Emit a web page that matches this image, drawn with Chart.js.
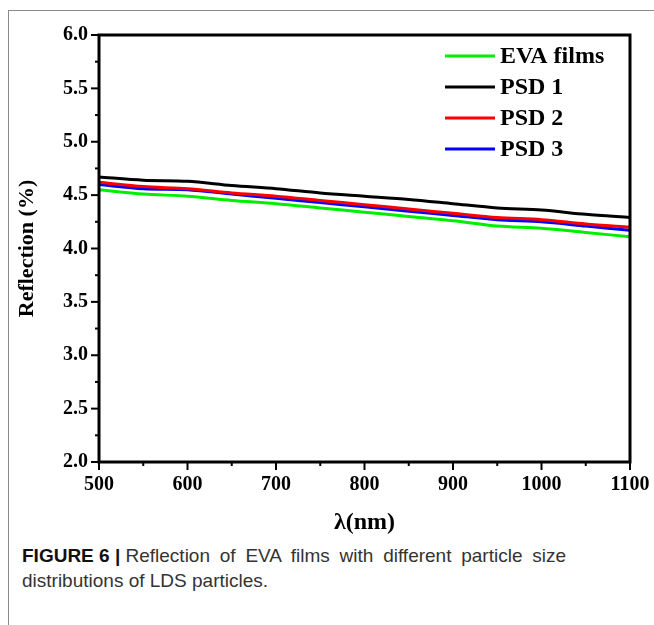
<!DOCTYPE html>
<html>
<head>
<meta charset="utf-8">
<script src="https://cdn.jsdelivr.net/npm/chart.js@4.4.0/dist/chart.umd.min.js"></script>
<style>
  html, body { margin: 0; padding: 0; background: #fff; }
  body { width: 654px; height: 625px; position: relative; overflow: hidden; }
  #frame { position: absolute; left: 8px; top: 10px; width: 660px; height: 640px;
           border-top: 1px solid #8a8a8a; border-left: 1px solid #8a8a8a; }
  #c { position: absolute; left: 0; top: 0; }
  .cap { position: absolute; left: 22px; font-family: "Liberation Sans", Arial, sans-serif;
         font-size: 19px; line-height: 22px; color: #333; white-space: nowrap; }
  .cap b { color: #111; }
  .sp { word-spacing: 4.5px; }
</style>
</head>
<body>
<div id="frame"></div>
<canvas id="c" width="654" height="545"></canvas>
<div class="cap" style="top:545px;"><b>FIGURE 6 |</b> <span class="sp">Reflection of EVA films with different particle size</span></div>
<div class="cap" style="top:570px;">distributions of LDS particles.</div>
<script>
const wavelengths = [500, 550, 600, 650, 700, 750, 800, 850, 900, 950, 1000, 1050, 1100];
const evaFilms = [4.55, 4.51, 4.49, 4.45, 4.42, 4.38, 4.34, 4.30, 4.26, 4.21, 4.19, 4.15, 4.11];
const psd1 = [4.67, 4.64, 4.63, 4.59, 4.56, 4.52, 4.49, 4.46, 4.42, 4.38, 4.36, 4.32, 4.29];
const psd2 = [4.62, 4.58, 4.56, 4.52, 4.49, 4.45, 4.41, 4.37, 4.33, 4.29, 4.27, 4.23, 4.20];
const psd3 = [4.60, 4.56, 4.55, 4.51, 4.47, 4.43, 4.39, 4.35, 4.31, 4.27, 4.25, 4.21, 4.17];
const seriesNames = ["EVA films", "PSD 1", "PSD 2", "PSD 3"];
const xTickValues = [500, 600, 700, 800, 900, 1000, 1100];
const yTickValues = [2.0, 2.5, 3.0, 3.5, 4.0, 4.5, 5.0, 5.5, 6.0];

const toPts = arr => arr.map((v, i) => ({ x: wavelengths[i], y: v }));
const serif = "'Liberation Serif', 'Times New Roman', serif";

const frameAndTicks = {
  id: 'frameAndTicks',
  afterDraw(chart) {
    const { ctx, chartArea: a, scales: { x, y } } = chart;
    ctx.save();
    ctx.strokeStyle = '#000';
    ctx.lineWidth = 2;
    for (let v = 500; v <= 1100; v += 50) {
      const px = x.getPixelForValue(v);
      const len = (v % 100 === 0) ? 8 : 4;
      ctx.beginPath(); ctx.moveTo(px, a.bottom); ctx.lineTo(px, a.bottom + len); ctx.stroke();
    }
    for (let v = 2.0; v <= 6.0001; v += 0.25) {
      const py = y.getPixelForValue(v);
      const major = Math.abs(v * 2 - Math.round(v * 2)) < 1e-6;
      const len = major ? 8 : 4;
      ctx.beginPath(); ctx.moveTo(a.left, py); ctx.lineTo(a.left - len, py); ctx.stroke();
    }
    ctx.lineWidth = 3;
    ctx.strokeRect(a.left, a.top, a.right - a.left, a.bottom - a.top);
    ctx.restore();
  }
};

const lineLegend = {
  id: 'lineLegend',
  afterDraw(chart) {
    const { ctx, chartArea: a } = chart;
    ctx.save();
    ctx.font = "bold 24px " + serif;
    ctx.textBaseline = 'middle';
    ctx.fillStyle = '#000';
    chart.data.datasets.forEach((ds, k) => {
      const yy = a.top + 21 + k * 31;
      const x0 = a.right - 185;
      ctx.strokeStyle = ds.borderColor;
      ctx.lineWidth = 3;
      ctx.beginPath(); ctx.moveTo(x0, yy); ctx.lineTo(x0 + 50, yy); ctx.stroke();
      ctx.fillText(ds.label, x0 + 55, yy + 1);
    });
    ctx.restore();
  }
};

new Chart(document.getElementById('c'), {
  type: 'line',
  data: {
    datasets: [
      { label: seriesNames[0], data: toPts(evaFilms), borderColor: '#00ee00', borderWidth: 3, pointRadius: 0, tension: 0.3, fill: false },
      { label: seriesNames[1], data: toPts(psd1), borderColor: '#000000', borderWidth: 3, pointRadius: 0, tension: 0.3, fill: false },
      { label: seriesNames[2], data: toPts(psd2), borderColor: '#ff0000', borderWidth: 3, pointRadius: 0, tension: 0.3, fill: false },
      { label: seriesNames[3], data: toPts(psd3), borderColor: '#0000ff', borderWidth: 3, pointRadius: 0, tension: 0.3, fill: false }
    ]
  },
  options: {
    responsive: false,
    animation: false,
    layout: { padding: { top: 35, right: 24, left: 0, bottom: 0 } },
    plugins: { legend: { display: false }, tooltip: { enabled: false } },
    scales: {
      x: {
        type: 'linear', min: 500, max: 1100,
        afterBuildTicks: s => { s.ticks = xTickValues.map(v => ({ value: v })); },
        ticks: { color: '#000', font: { family: serif, size: 20, weight: 'bold' }, padding: 11, maxRotation: 0, callback: v => String(v) },
        grid: { display: false, drawTicks: false },
        border: { display: false },
        title: { display: true, text: 'λ(nm)', color: '#000', font: { family: serif, size: 24, weight: 'bold' }, padding: { top: 0, bottom: 8 } },
        afterFit: s => { s.height = 83; s.paddingLeft = 0; s.paddingRight = 0; }
      },
      y: {
        type: 'linear', min: 2.0, max: 6.0,
        afterBuildTicks: s => { s.ticks = yTickValues.map(v => ({ value: v })); },
        ticks: { color: '#000', font: { family: serif, size: 20, weight: 'bold' }, padding: 11, callback: v => Number(v).toFixed(1) },
        grid: { display: false, drawTicks: false },
        border: { display: false },
        title: { display: true, text: 'Reflection (%)', color: '#000', font: { family: serif, size: 22, weight: 'bold' }, padding: { top: 14, bottom: 14 } },
        afterFit: s => { s.width = 99; s.paddingTop = 0; s.paddingBottom = 0; }
      }
    }
  },
  plugins: [frameAndTicks, lineLegend]
});
</script>
</body>
</html>
